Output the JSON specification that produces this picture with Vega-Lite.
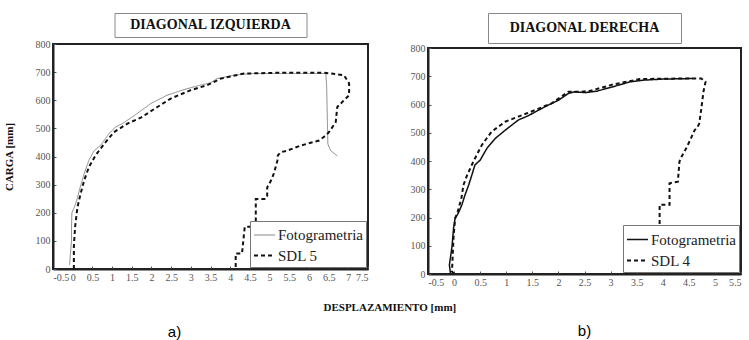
{
"$schema": "https://vega.github.io/schema/vega-lite/v6.json",
"autosize": {"type": "pad"},
"padding": {"left": 2, "top": 12, "right": 0, "bottom": 0},
"background": "white",
"datasets": {
"izq": [
{"i":1,"x":-0.08,"y":15,"s":"Fotogrametria"},{"i":2,"x":-0.06,"y":50,"s":"Fotogrametria"},{"i":3,"x":-0.03,"y":100,"s":"Fotogrametria"},{"i":4,"x":-0.03,"y":150,"s":"Fotogrametria"},{"i":5,"x":-0.02,"y":200,"s":"Fotogrametria"},{"i":6,"x":0.03,"y":215,"s":"Fotogrametria"},{"i":7,"x":0.1,"y":243,"s":"Fotogrametria"},{"i":8,"x":0.19,"y":290,"s":"Fotogrametria"},{"i":9,"x":0.29,"y":338,"s":"Fotogrametria"},{"i":10,"x":0.41,"y":386,"s":"Fotogrametria"},{"i":11,"x":0.54,"y":420,"s":"Fotogrametria"},{"i":12,"x":0.71,"y":440,"s":"Fotogrametria"},{"i":13,"x":0.92,"y":481,"s":"Fotogrametria"},{"i":14,"x":1.09,"y":505,"s":"Fotogrametria"},{"i":15,"x":1.26,"y":517,"s":"Fotogrametria"},{"i":16,"x":1.56,"y":545,"s":"Fotogrametria"},{"i":17,"x":1.98,"y":588,"s":"Fotogrametria"},{"i":18,"x":2.4,"y":618,"s":"Fotogrametria"},{"i":19,"x":2.83,"y":638,"s":"Fotogrametria"},{"i":20,"x":3.25,"y":654,"s":"Fotogrametria"},{"i":21,"x":3.5,"y":662,"s":"Fotogrametria"},{"i":22,"x":3.67,"y":677,"s":"Fotogrametria"},{"i":23,"x":4.1,"y":689,"s":"Fotogrametria"},{"i":24,"x":4.52,"y":695,"s":"Fotogrametria"},{"i":25,"x":5.0,"y":695,"s":"Fotogrametria"},{"i":26,"x":5.5,"y":695,"s":"Fotogrametria"},{"i":27,"x":6.0,"y":695,"s":"Fotogrametria"},{"i":28,"x":6.43,"y":695,"s":"Fotogrametria"},{"i":29,"x":6.45,"y":647,"s":"Fotogrametria"},{"i":30,"x":6.47,"y":517,"s":"Fotogrametria"},{"i":31,"x":6.48,"y":445,"s":"Fotogrametria"},{"i":32,"x":6.55,"y":421,"s":"Fotogrametria"},{"i":33,"x":6.72,"y":402,"s":"Fotogrametria"},
{"i":1,"x":0.03,"y":0,"s":"SDL 5"},{"i":2,"x":0.03,"y":80,"s":"SDL 5"},{"i":3,"x":0.06,"y":148,"s":"SDL 5"},{"i":4,"x":0.12,"y":219,"s":"SDL 5"},{"i":5,"x":0.2,"y":267,"s":"SDL 5"},{"i":6,"x":0.29,"y":314,"s":"SDL 5"},{"i":7,"x":0.41,"y":362,"s":"SDL 5"},{"i":8,"x":0.58,"y":404,"s":"SDL 5"},{"i":9,"x":0.8,"y":445,"s":"SDL 5"},{"i":10,"x":1.05,"y":487,"s":"SDL 5"},{"i":11,"x":1.39,"y":517,"s":"SDL 5"},{"i":12,"x":1.73,"y":538,"s":"SDL 5"},{"i":13,"x":2.15,"y":576,"s":"SDL 5"},{"i":14,"x":2.49,"y":606,"s":"SDL 5"},{"i":15,"x":3.0,"y":636,"s":"SDL 5"},{"i":16,"x":3.42,"y":654,"s":"SDL 5"},{"i":17,"x":3.76,"y":677,"s":"SDL 5"},{"i":18,"x":4.35,"y":695,"s":"SDL 5"},{"i":19,"x":5.37,"y":698,"s":"SDL 5"},{"i":20,"x":6.38,"y":698,"s":"SDL 5"},{"i":21,"x":6.89,"y":689,"s":"SDL 5"},{"i":22,"x":7.02,"y":660,"s":"SDL 5"},{"i":23,"x":7.02,"y":618,"s":"SDL 5"},{"i":24,"x":6.89,"y":600,"s":"SDL 5"},{"i":25,"x":6.72,"y":576,"s":"SDL 5"},{"i":26,"x":6.68,"y":522,"s":"SDL 5"},{"i":27,"x":6.51,"y":487,"s":"SDL 5"},{"i":28,"x":6.43,"y":475,"s":"SDL 5"},{"i":29,"x":6.26,"y":457,"s":"SDL 5"},{"i":30,"x":5.79,"y":439,"s":"SDL 5"},{"i":31,"x":5.45,"y":421,"s":"SDL 5"},{"i":32,"x":5.28,"y":415,"s":"SDL 5"},{"i":33,"x":5.21,"y":404,"s":"SDL 5"},{"i":34,"x":5.2,"y":386,"s":"SDL 5"},{"i":35,"x":5.11,"y":340,"s":"SDL 5"},{"i":36,"x":5.03,"y":313,"s":"SDL 5"},{"i":37,"x":4.94,"y":290,"s":"SDL 5"},{"i":38,"x":4.94,"y":260,"s":"SDL 5"},{"i":39,"x":4.9,"y":249,"s":"SDL 5"},{"i":40,"x":4.65,"y":249,"s":"SDL 5"},{"i":41,"x":4.65,"y":150,"s":"SDL 5"},{"i":42,"x":4.37,"y":150,"s":"SDL 5"},{"i":43,"x":4.3,"y":55,"s":"SDL 5"},{"i":44,"x":4.14,"y":55,"s":"SDL 5"},{"i":45,"x":4.14,"y":0,"s":"SDL 5"}
],
"der": [
{"i":1,"x":-0.07,"y":3,"s":"Fotogrametria"},{"i":2,"x":-0.09,"y":32,"s":"Fotogrametria"},{"i":3,"x":-0.04,"y":97,"s":"Fotogrametria"},{"i":4,"x":-0.01,"y":162,"s":"Fotogrametria"},{"i":5,"x":0.02,"y":197,"s":"Fotogrametria"},{"i":6,"x":0.08,"y":215,"s":"Fotogrametria"},{"i":7,"x":0.15,"y":245,"s":"Fotogrametria"},{"i":8,"x":0.21,"y":280,"s":"Fotogrametria"},{"i":9,"x":0.28,"y":315,"s":"Fotogrametria"},{"i":10,"x":0.34,"y":350,"s":"Fotogrametria"},{"i":11,"x":0.4,"y":386,"s":"Fotogrametria"},{"i":12,"x":0.5,"y":403,"s":"Fotogrametria"},{"i":13,"x":0.63,"y":445,"s":"Fotogrametria"},{"i":14,"x":0.79,"y":480,"s":"Fotogrametria"},{"i":15,"x":0.98,"y":509,"s":"Fotogrametria"},{"i":16,"x":1.23,"y":545,"s":"Fotogrametria"},{"i":17,"x":1.42,"y":560,"s":"Fotogrametria"},{"i":18,"x":1.74,"y":592,"s":"Fotogrametria"},{"i":19,"x":2.0,"y":615,"s":"Fotogrametria"},{"i":20,"x":2.19,"y":639,"s":"Fotogrametria"},{"i":21,"x":2.31,"y":645,"s":"Fotogrametria"},{"i":22,"x":2.51,"y":642,"s":"Fotogrametria"},{"i":23,"x":2.73,"y":647,"s":"Fotogrametria"},{"i":24,"x":3.05,"y":663,"s":"Fotogrametria"},{"i":25,"x":3.37,"y":680,"s":"Fotogrametria"},{"i":26,"x":3.62,"y":686,"s":"Fotogrametria"},{"i":27,"x":4.0,"y":690,"s":"Fotogrametria"},{"i":28,"x":4.58,"y":692,"s":"Fotogrametria"},
{"i":1,"x":0.0,"y":0,"s":"SDL 4"},{"i":2,"x":-0.04,"y":9,"s":"SDL 4"},{"i":3,"x":-0.01,"y":132,"s":"SDL 4"},{"i":4,"x":0.02,"y":197,"s":"SDL 4"},{"i":5,"x":0.07,"y":221,"s":"SDL 4"},{"i":6,"x":0.14,"y":268,"s":"SDL 4"},{"i":7,"x":0.18,"y":315,"s":"SDL 4"},{"i":8,"x":0.25,"y":350,"s":"SDL 4"},{"i":9,"x":0.34,"y":386,"s":"SDL 4"},{"i":10,"x":0.4,"y":409,"s":"SDL 4"},{"i":11,"x":0.53,"y":456,"s":"SDL 4"},{"i":12,"x":0.72,"y":504,"s":"SDL 4"},{"i":13,"x":0.98,"y":539,"s":"SDL 4"},{"i":14,"x":1.23,"y":557,"s":"SDL 4"},{"i":15,"x":1.55,"y":580,"s":"SDL 4"},{"i":16,"x":1.87,"y":604,"s":"SDL 4"},{"i":17,"x":2.19,"y":645,"s":"SDL 4"},{"i":18,"x":2.41,"y":645,"s":"SDL 4"},{"i":19,"x":2.6,"y":648,"s":"SDL 4"},{"i":20,"x":3.05,"y":671,"s":"SDL 4"},{"i":21,"x":3.56,"y":690,"s":"SDL 4"},{"i":22,"x":4.32,"y":692,"s":"SDL 4"},{"i":23,"x":4.74,"y":692,"s":"SDL 4"},{"i":24,"x":4.82,"y":680,"s":"SDL 4"},{"i":25,"x":4.78,"y":645,"s":"SDL 4"},{"i":26,"x":4.74,"y":586,"s":"SDL 4"},{"i":27,"x":4.7,"y":533,"s":"SDL 4"},{"i":28,"x":4.67,"y":521,"s":"SDL 4"},{"i":29,"x":4.61,"y":509,"s":"SDL 4"},{"i":30,"x":4.54,"y":480,"s":"SDL 4"},{"i":31,"x":4.45,"y":445,"s":"SDL 4"},{"i":32,"x":4.36,"y":415,"s":"SDL 4"},{"i":33,"x":4.32,"y":398,"s":"SDL 4"},{"i":34,"x":4.29,"y":327,"s":"SDL 4"},{"i":35,"x":4.13,"y":321,"s":"SDL 4"},{"i":36,"x":4.13,"y":245,"s":"SDL 4"},{"i":37,"x":3.94,"y":245,"s":"SDL 4"},{"i":38,"x":3.94,"y":150,"s":"SDL 4"},{"i":39,"x":3.65,"y":150,"s":"SDL 4"},{"i":40,"x":3.35,"y":20,"s":"SDL 4"},{"i":41,"x":3.3,"y":0,"s":"SDL 4"}
]
},
"config": {
"view": {"stroke": "#222", "strokeWidth": 2},
"axis": {"grid": false, "labelFont": "Liberation Serif, Times New Roman, serif", "labelFontSize": 10, "labelColor": "#555", "domainColor": "#222", "domainWidth": 2, "tickColor": "#555", "tickSize": -3, "labelPadding": 6, "titleFont": "Liberation Serif, Times New Roman, serif", "titleFontWeight": "bold", "titleFontSize": 11, "titleColor": "#111"},
"legend": {"orient": "bottom-right", "offset": 2, "padding": 3, "fillColor": "white", "strokeColor": "#777", "symbolType": "stroke", "symbolSize": 441, "labelFont": "Liberation Serif, Times New Roman, serif", "labelFontSize": 15, "labelColor": "#222", "rowPadding": 1, "labelOffset": 2}
},
"bounds": "flush",
"spacing": 375,
"resolve": {"scale": {"x": "independent", "y": "independent", "color": "independent", "strokeDash": "independent", "strokeWidth": "independent"}},
"hconcat": [
{
"vconcat": [
{"width": 192, "height": 24, "view": {"stroke": "#888", "strokeWidth": 1},
 "data": {"values": [{"t": "DIAGONAL IZQUIERDA"}]},
 "mark": {"type": "text", "font": "Liberation Serif, Times New Roman, serif", "fontWeight": "bold", "fontSize": 14, "color": "#111"},
 "encoding": {"text": {"field": "t"}}},
{"width": 315, "height": 225,
 "data": {"name": "izq"},
 "title": {"text": "a)", "orient": "bottom", "anchor": "middle", "frame": "group", "dx": -36, "offset": 13, "font": "Liberation Sans", "fontSize": 15, "fontWeight": "normal", "color": "#000", "baseline": "top"},
 "mark": {"type": "line"},
 "encoding": {
  "x": {"field": "x", "type": "quantitative", "scale": {"domain": [-0.5, 7.5], "nice": false, "zero": false},
        "axis": {"values": [-0.5,0,0.5,1,1.5,2,2.5,3,3.5,4,4.5,5,5.5,6,6.5,7,7.5], "labelExpr": "'' + datum.value", "title": "DESPLAZAMIENTO [mm]", "titleAnchor": "start", "titleAlign": "left", "titleX": 270, "titleY": 38, "titleBaseline": "middle"}},
  "y": {"field": "y", "type": "quantitative", "scale": {"domain": [0, 800], "nice": false},
        "axis": {"values": [0,100,200,300,400,500,600,700,800], "title": "CARGA [mm]", "titleX": -44, "titleY": 112.5, "titleAngle": -90, "titleAlign": "center", "titleBaseline": "middle"}},
  "order": {"field": "i", "type": "quantitative"},
  "color": {"field": "s", "type": "nominal", "scale": {"range": ["#888", "#111"]}, "legend": {"title": null}},
  "strokeDash": {"field": "s", "type": "nominal", "scale": {"range": [[1, 0], [4, 3]]}, "legend": {"title": null}},
  "strokeWidth": {"field": "s", "type": "nominal", "scale": {"type": "ordinal", "range": [1, 2]}, "legend": {"title": null}}
 }}
],
"spacing": 7, "center": true, "bounds": "flush",
"resolve": {"scale": {"color": "independent", "strokeDash": "independent", "strokeWidth": "independent"}}
},
{
"vconcat": [
{"width": 193, "height": 30, "view": {"stroke": "#888", "strokeWidth": 1},
 "data": {"values": [{"t": "DIAGONAL DERECHA"}]},
 "mark": {"type": "text", "font": "Liberation Serif, Times New Roman, serif", "fontWeight": "bold", "fontSize": 14, "color": "#111"},
 "encoding": {"text": {"field": "t"}}},
{"width": 313, "height": 226,
 "data": {"name": "der"},
 "title": {"text": "b)", "orient": "bottom", "anchor": "middle", "frame": "group", "dx": 0, "offset": 37, "font": "Liberation Sans", "fontSize": 15, "fontWeight": "normal", "color": "#000", "baseline": "top"},
 "mark": {"type": "line"},
 "encoding": {
  "x": {"field": "x", "type": "quantitative", "scale": {"domain": [-0.5, 5.5], "nice": false, "zero": false},
        "axis": {"values": [-0.5,0,0.5,1,1.5,2,2.5,3,3.5,4,4.5,5,5.5], "labelExpr": "'' + datum.value", "title": null}},
  "y": {"field": "y", "type": "quantitative", "scale": {"domain": [0, 800], "nice": false},
        "axis": {"values": [0,100,200,300,400,500,600,700,800], "title": null}},
  "order": {"field": "i", "type": "quantitative"},
  "color": {"field": "s", "type": "nominal", "scale": {"range": ["#111", "#111"]}, "legend": {"title": null}},
  "strokeDash": {"field": "s", "type": "nominal", "scale": {"range": [[1, 0], [4, 3]]}, "legend": {"title": null}},
  "strokeWidth": {"field": "s", "type": "nominal", "scale": {"type": "ordinal", "range": [1.5, 2]}, "legend": {"title": null}}
 }}
],
"spacing": 5, "center": true, "bounds": "flush",
"resolve": {"scale": {"color": "independent", "strokeDash": "independent", "strokeWidth": "independent"}}
}
]
}
